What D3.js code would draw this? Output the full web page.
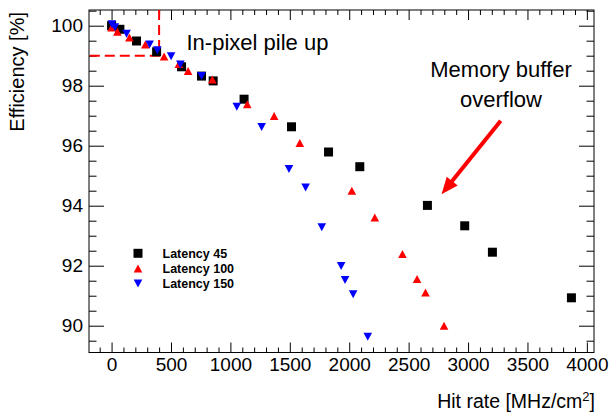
<!DOCTYPE html>
<html><head><meta charset="utf-8">
<script src="https://cdn.jsdelivr.net/npm/d3@7"></script>
<style>
html,body{margin:0;padding:0;background:#fff;}
svg{display:block;font-family:"Liberation Sans",Arial,Helvetica,sans-serif;}
</style></head>
<body>
<svg id="chart" width="610" height="413"></svg>
<script>
// ---- data (hit rate in MHz/cm^2, efficiency in %) ----
const lat45Rate = [0, 70, 210, 379, 589, 757, 855, 1115, 1514, 1826, 2089, 2658, 2972, 3205, 3870];
const lat45Eff  = [100.0, 99.88, 99.49, 99.13, 98.63, 98.32, 98.16, 97.55, 96.63, 95.79, 95.30, 94.01, 93.33, 92.45, 90.93];

const lat100Rate = [0, 49, 150, 284, 442, 566, 644, 848, 1142, 1368, 1584, 2022, 2215, 2448, 2571, 2642, 2798];
const lat100Eff  = [99.94, 99.80, 99.61, 99.37, 98.97, 98.72, 98.49, 98.21, 97.38, 96.99, 96.09, 94.50, 93.61, 92.39, 91.56, 91.11, 90.00];

const lat150Rate = [3, 28, 126, 320, 385, 501, 579, 757, 1054, 1263, 1493, 1633, 1769, 1932, 1965, 2033, 2156];
const lat150Eff  = [100.05, 99.95, 99.73, 99.37, 99.18, 98.98, 98.71, 98.32, 97.30, 96.62, 95.22, 94.61, 93.28, 91.99, 91.52, 91.05, 89.63];

const seriesNames = ["Latency 45", "Latency 100", "Latency 150"];
const xTicks = [0, 500, 1000, 1500, 2000, 2500, 3000, 3500, 4000];
const yTicks = [90, 92, 94, 96, 98, 100];
const xDomain = [-190, 4060];
const yDomain = [89.107, 100.523];

// annotations (data coordinates)
const pileUpRate = 400, pileUpEff = 99.0;
const pileUpLabel = "In-pixel pile up";
const overflowLabel = ["Memory buffer", "overflow"];
const arrowFrom = [3275, 96.83];
const arrowTo = [2777, 94.38];

// ---- layout ----
const L = 89, R = 594, T = 10, B = 352.5;
const svg = d3.select("#chart");
const x = d3.scaleLinear().domain(xDomain).range([L, R]);
const y = d3.scaleLinear().domain(yDomain).range([B, T]);

const xMinor = d3.range(-100, 4060, 100).filter(v => v % 500 !== 0);
const yMinor = d3.range(89.5, 100.6, 0.5).filter(v => Math.abs(v % 2) > 0.01);

const tickFont = "19px";
function styleAxis(g){ g.select(".domain").remove(); g.selectAll("line").attr("stroke","#000").attr("stroke-width",1); g.selectAll("text").attr("fill","#000").style("font-size",tickFont).style("font-family","'Liberation Sans',Arial,sans-serif"); }

// bottom
svg.append("g").attr("transform",`translate(0,${B})`)
  .call(d3.axisBottom(x).tickValues(xTicks).tickSizeInner(-10).tickSizeOuter(0).tickPadding(5).tickFormat(d3.format("d")))
  .call(styleAxis);
svg.append("g").attr("transform",`translate(0,${B})`)
  .call(d3.axisBottom(x).tickValues(xMinor).tickSizeInner(-5).tickSizeOuter(0).tickFormat(""))
  .call(styleAxis);
// top
svg.append("g").attr("transform",`translate(0,${T})`)
  .call(d3.axisTop(x).tickValues(xTicks).tickSizeInner(-10).tickSizeOuter(0).tickFormat(""))
  .call(styleAxis);
svg.append("g").attr("transform",`translate(0,${T})`)
  .call(d3.axisTop(x).tickValues(xMinor).tickSizeInner(-5).tickSizeOuter(0).tickFormat(""))
  .call(styleAxis);
// left
svg.append("g").attr("transform",`translate(${L},0)`)
  .call(d3.axisLeft(y).tickValues(yTicks).tickSizeInner(-15).tickSizeOuter(0).tickPadding(6).tickFormat(d3.format("d")))
  .call(styleAxis);
svg.append("g").attr("transform",`translate(${L},0)`)
  .call(d3.axisLeft(y).tickValues(yMinor).tickSizeInner(-7.5).tickSizeOuter(0).tickFormat(""))
  .call(styleAxis);
// right
svg.append("g").attr("transform",`translate(${R},0)`)
  .call(d3.axisRight(y).tickValues(yTicks).tickSizeInner(-15).tickSizeOuter(0).tickFormat(""))
  .call(styleAxis);
svg.append("g").attr("transform",`translate(${R},0)`)
  .call(d3.axisRight(y).tickValues(yMinor).tickSizeInner(-7.5).tickSizeOuter(0).tickFormat(""))
  .call(styleAxis);

// frame
svg.append("rect").attr("x",L).attr("y",T).attr("width",R-L).attr("height",B-T)
  .attr("fill","none").attr("stroke","#000").attr("stroke-width",1);

// axis titles
svg.append("text").attr("x",595).attr("y",408).attr("text-anchor","end")
  .style("font-size","19.5px")
  .call(t => { t.append("tspan").text("Hit rate [MHz/cm");
               t.append("tspan").attr("dy",-7).style("font-size","13px").text("2");
               t.append("tspan").attr("dy",7).text("]"); });
svg.append("text").attr("transform","translate(24,12) rotate(-90)").attr("text-anchor","end")
  .style("font-size","20px").text("Efficiency [%]");

// pile-up dashed region
svg.append("path")
  .attr("d", `M${x(pileUpRate)},${T} L${x(pileUpRate)},${y(pileUpEff)} L${L},${y(pileUpEff)}`)
  .attr("fill","none").attr("stroke","#ff0000").attr("stroke-width",2).attr("stroke-dasharray","10,5");

// markers
const S = 4.5;
function square(cx,cy){ return `M${cx-S},${cy-S}h${2*S}v${2*S}h${-2*S}Z`; }
function triUp(cx,cy){ return `M${cx-4.3},${cy+4}L${cx+4.3},${cy+4}L${cx},${cy-4}Z`; }
function triDown(cx,cy){ return `M${cx-4.3},${cy-4}L${cx+4.3},${cy-4}L${cx},${cy+4}Z`; }

const series = [
  {rate: lat45Rate, eff: lat45Eff, color:"#000000", shape: square},
  {rate: lat100Rate, eff: lat100Eff, color:"#ff0000", shape: triUp},
  {rate: lat150Rate, eff: lat150Eff, color:"#0000ff", shape: triDown}
];
series.forEach(s => {
  svg.append("g").selectAll("path").data(s.rate.map((r,i)=>[r,s.eff[i]])).join("path")
    .attr("d", d => s.shape(x(d[0]), y(d[1]))).attr("fill", s.color);
});

// legend
const legY = [253.3, 268.5, 283.5];
series.forEach((s,i) => {
  svg.append("path").attr("d", s.shape(138, legY[i])).attr("fill", s.color);
  svg.append("text").attr("x",162.5).attr("y",legY[i]+4.5)
    .style("font-size","12.5px").style("font-weight","bold").text(seriesNames[i]);
});

// annotations
svg.append("text").attr("x",186.5).attr("y",50).style("font-size","22px").text(pileUpLabel);
svg.append("text").attr("x",501).attr("y",77).attr("text-anchor","middle").style("font-size","22px").text(overflowLabel[0]);
svg.append("text").attr("x",501).attr("y",107).attr("text-anchor","middle").style("font-size","22px").text(overflowLabel[1]);

// arrow
const ax0 = x(arrowFrom[0]), ay0 = y(arrowFrom[1]), ax1 = x(arrowTo[0]), ay1 = y(arrowTo[1]);
const ang = Math.atan2(ay1-ay0, ax1-ax0);
const headLen = 17, headHalf = 7;
const bx = ax1 - headLen*Math.cos(ang), by = ay1 - headLen*Math.sin(ang);
svg.append("line").attr("x1",ax0).attr("y1",ay0).attr("x2",bx+2*Math.cos(ang)).attr("y2",by+2*Math.sin(ang))
  .attr("stroke","#ff0000").attr("stroke-width",4);
svg.append("path")
  .attr("d", `M${ax1},${ay1}L${bx - headHalf*Math.sin(ang)},${by + headHalf*Math.cos(ang)}L${bx + headHalf*Math.sin(ang)},${by - headHalf*Math.cos(ang)}Z`)
  .attr("fill","#ff0000");
</script>
</body></html>
